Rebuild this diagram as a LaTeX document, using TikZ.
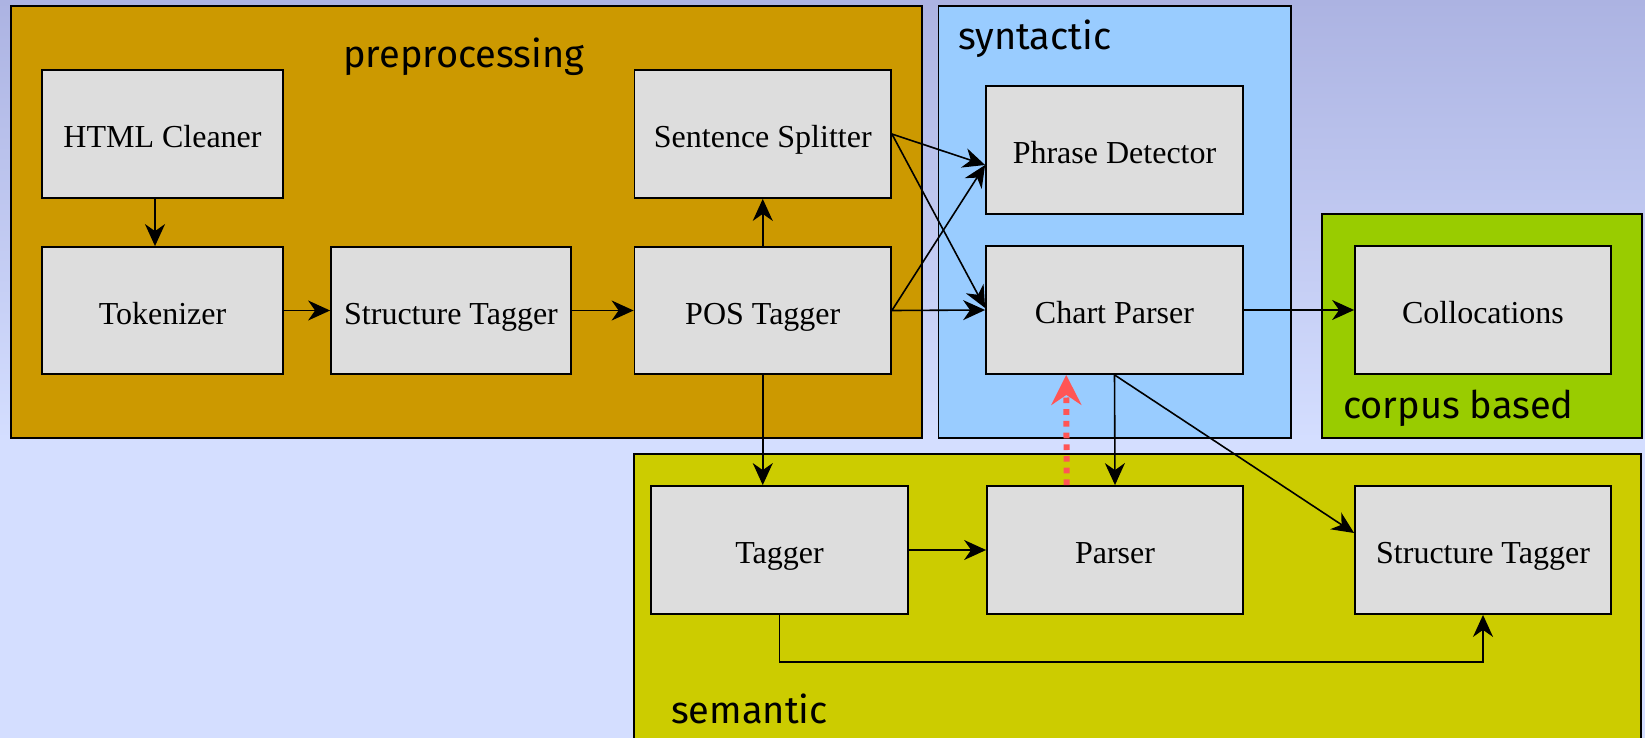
\documentclass[tikz,border=0pt]{standalone}
\usepackage{fontspec}
\setmainfont{Liberation Serif}
\newfontfamily\grpfont{Fira Sans}
\usetikzlibrary{arrows.meta,positioning}
\definecolor{bgtop}{HTML}{ACB3E2}
\definecolor{bgbot}{HTML}{D4DEFF}
\definecolor{precol}{HTML}{CC9900}
\definecolor{syncol}{HTML}{99CCFF}
\definecolor{corcol}{HTML}{99CC00}
\definecolor{semcol}{HTML}{CCCC00}
\definecolor{boxcol}{HTML}{DDDDDD}
\definecolor{redcol}{HTML}{FF5555}
\tikzset{
  x=1pt, y=-1pt,
  grp/.style={draw=black, line width=1.8pt},
  grplabel/.style={font=\grpfont\fontsize{38}{42}\selectfont, anchor=base west, inner sep=0pt},
  pbox/.style={draw=black, fill=boxcol, line width=1.8pt, minimum height=128pt,
    font=\fontsize{32}{36}\selectfont, inner sep=0pt, text height=27pt, text depth=0pt},
  arr/.style={draw=black, line width=1.6pt, -{Stealth[length=22pt,width=20pt,inset=7pt]}},
  redarr/.style={draw=redcol, line width=6pt, dash pattern=on 5.7pt off 6pt,
    -{Stealth[length=30pt,width=30pt,inset=10pt]}}
}
\begin{document}
\begin{tikzpicture}
\useasboundingbox (0,0) rectangle (1645,738);
% background
\shade[top color=bgtop, bottom color=bgbot] (0,0) rectangle (1645,440);
\fill[bgbot] (0,439) rectangle (1645,738);
% groups
\draw[grp, fill=precol] (11,6) rectangle (922,438);
\draw[grp, fill=syncol] (938.5,6) rectangle (1291,438);
\draw[grp, fill=corcol] (1322,214) rectangle (1642,438);
\draw[grp, fill=semcol] (634,454) rectangle (1641,750);
\node[grplabel] (lpre) at (343,68) {preprocessing};
\node[grplabel] (lsyn) at (958,50) {syntactic};
\node[grplabel] (lcor) at (1343,418) {corpus based};
\node[grplabel] (lsem) at (671,723) {semantic};
% boxes
\node[pbox, minimum width=241pt] (html) at (162.5,134) {HTML Cleaner};
\node[pbox, minimum width=241pt, minimum height=127pt] (tok) at (162.5,310.5) {Tokenizer};
\node[pbox, minimum width=240pt, minimum height=127pt] (st1) at (451,310.5) {Structure Tagger};
\node[pbox, minimum width=256.5pt, minimum height=127pt] (pos) at (762.75,310.5) {POS Tagger};
\node[pbox, minimum width=256.5pt] (ss) at (762.75,134) {Sentence Splitter};
\node[pbox, minimum width=257pt] (pd) at (1114.5,150) {Phrase Detector};
\node[pbox, minimum width=257pt] (cp) at (1114.5,310) {Chart Parser};
\node[pbox, minimum width=256pt] (col) at (1483,310) {Collocations};
\node[pbox, minimum width=257pt] (tag) at (779.5,550) {Tagger};
\node[pbox, minimum width=256pt] (par) at (1115,550) {Parser};
\node[pbox, minimum width=256pt] (st2) at (1483,550) {Structure Tagger};
% connectors
\draw[arr] ([xshift=-7.5pt]html.south) -- ([xshift=-7.5pt]tok.north);
\draw[arr] (tok.east) -- (st1.west);
\draw[arr] (st1.east) -- (pos.west);
\draw[arr] (pos.north) -- (ss.south);
\draw[arr] (ss.east) -- ([yshift=-15pt]pd.west);
\draw[arr] (ss.east) -- ([yshift=2pt]cp.west);
\draw[arr] (pos.east) -- ([yshift=-15pt]pd.west);
\draw[arr] (pos.east) -- (cp.west);
\draw[arr] (pos.south) -- (pos.south |- tag.north);
\draw[arr] (tag.east) -- (par.west);
\draw[arr] (cp.south) -- (par.north);
\draw[arr] (cp.south) -- ([yshift=17pt]st2.west);
\draw[arr] (cp.east) -- (col.west);
\coordinate (turn) at (1483,662);
\draw[arr] (tag.south) |- (turn) -- (st2.south);
\draw[redarr] ([xshift=-48.3pt]par.north) -- ([xshift=-48.3pt]cp.south);
\end{tikzpicture}
\end{document}
